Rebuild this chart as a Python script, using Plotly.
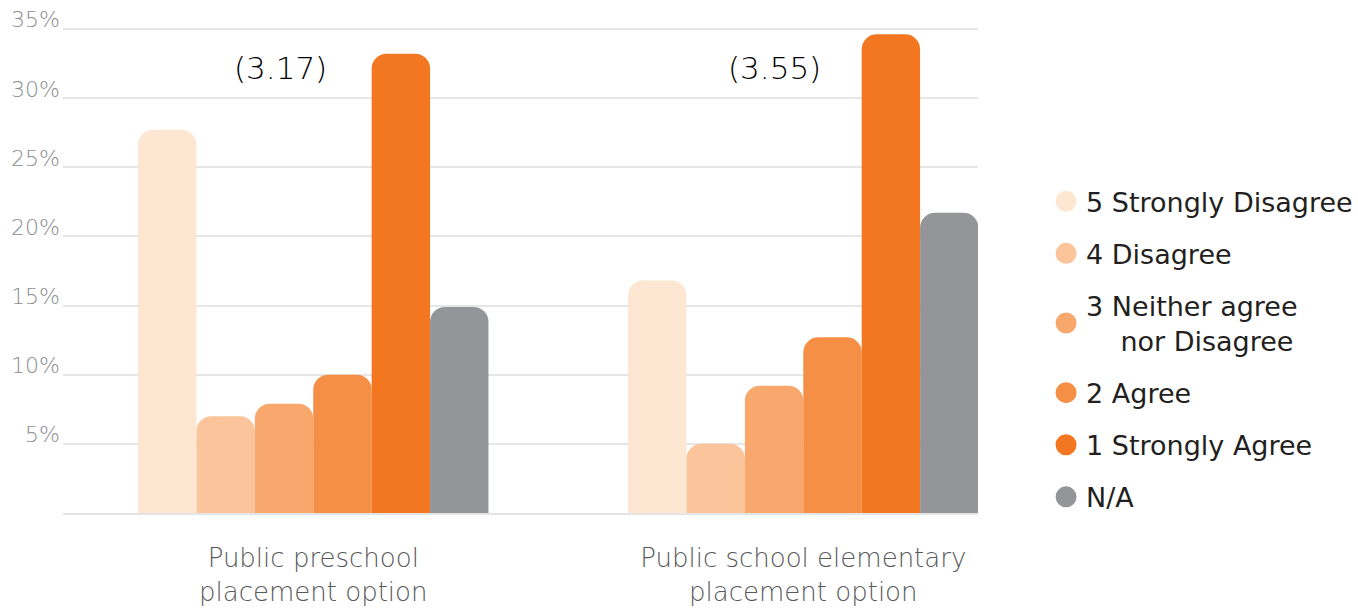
import plotly.graph_objects as go

groups = ["Public preschool<br>placement option", "Public school elementary<br>placement option"]
group_pos = [0, 1]
series_names = ["5 Strongly Disagree", "4 Disagree", "3 Neither agree<br>\u00a0\u00a0\u00a0\u00a0nor Disagree",
                "2 Agree", "1 Strongly Agree", "N/A"]
colors = ["#FDE6D2", "#FBC49A", "#F8A86D", "#F58F45", "#F37721", "#939598"]
strongly_disagree = [27.7, 16.8]
disagree = [7.0, 5.0]
neither = [7.9, 9.2]
agree = [10.0, 12.7]
strongly_agree = [33.2, 34.6]
na = [14.9, 21.7]
values = [strongly_disagree, disagree, neither, agree, strongly_agree, na]
mean_labels = ["(3.17)", "(3.55)"]
mean_label_x = [-0.067, 0.942]
mean_label_y = [32.2, 32.2]
y_ticks = [5, 10, 15, 20, 25, 30, 35]
y_ticktext = ["5%", "10%", "15%", "20%", "25%", "30%", "35%"]

FONT = "DejaVu Sans"

fig = go.Figure()
for name, vals, col in zip(series_names, values, colors):
    fig.add_trace(go.Bar(x=group_pos, y=vals, marker=dict(color=col, line=dict(width=0)),
                         showlegend=False, hoverinfo="skip"))
for i, (name, col) in enumerate(zip(series_names, colors)):
    fig.add_trace(go.Scatter(x=[None], y=[None], mode="markers", name=name,
                             legendgroup=f"g{i}",
                             marker=dict(symbol="circle", size=16, color=col,
                                         line=dict(color=col, width=5))))

for txt, x, y in zip(mean_labels, mean_label_x, mean_label_y):
    fig.add_annotation(x=x, y=y, text=txt, showarrow=False,
                       font=dict(family=FONT, size=31, color="#000000", weight=200),
                       xanchor="center", yanchor="middle")

for v, t in zip(y_ticks, y_ticktext):
    fig.add_annotation(x=0, xref="paper", y=v, yref="y", text=t, showarrow=False,
                       xanchor="right", yanchor="middle", xshift=-1, yshift=9,
                       font=dict(family=FONT, size=22, color="#8c8e91", weight=200))

fig.update_layout(
    width=1358, height=610,
    margin=dict(l=63, r=380, t=15, b=97),
    paper_bgcolor="white", plot_bgcolor="white",
    barmode="group", bargap=0.285, bargroupgap=0,
    barcornerradius=15,
    font=dict(family=FONT),
    legend=dict(xref="container", yref="container", x=0.7703, xanchor="left",
                y=0.7095, yanchor="top", maxheight=600,
                font=dict(family=FONT, size=27, color="#231f20"),
                tracegroupgap=14, itemclick=False, itemdoubleclick=False,
                bgcolor="rgba(0,0,0,0)"),
    xaxis=dict(range=[-0.5107, 1.3565], tickvals=group_pos, ticktext=groups,
               showgrid=False, zeroline=False, showline=True, linecolor="#e4e4e4", linewidth=2,
               ticks="", ticklabelstandoff=21, automargin=False,
               tickfont=dict(family=FONT, size=26, color="#58595b", weight=200)),
    yaxis=dict(range=[0, 36], tickvals=y_ticks, showticklabels=False, automargin=False,
               showgrid=True, gridcolor="#e6e6e6", gridwidth=2, zeroline=False, ticks=""),
)

fig.write_html("out.html")
